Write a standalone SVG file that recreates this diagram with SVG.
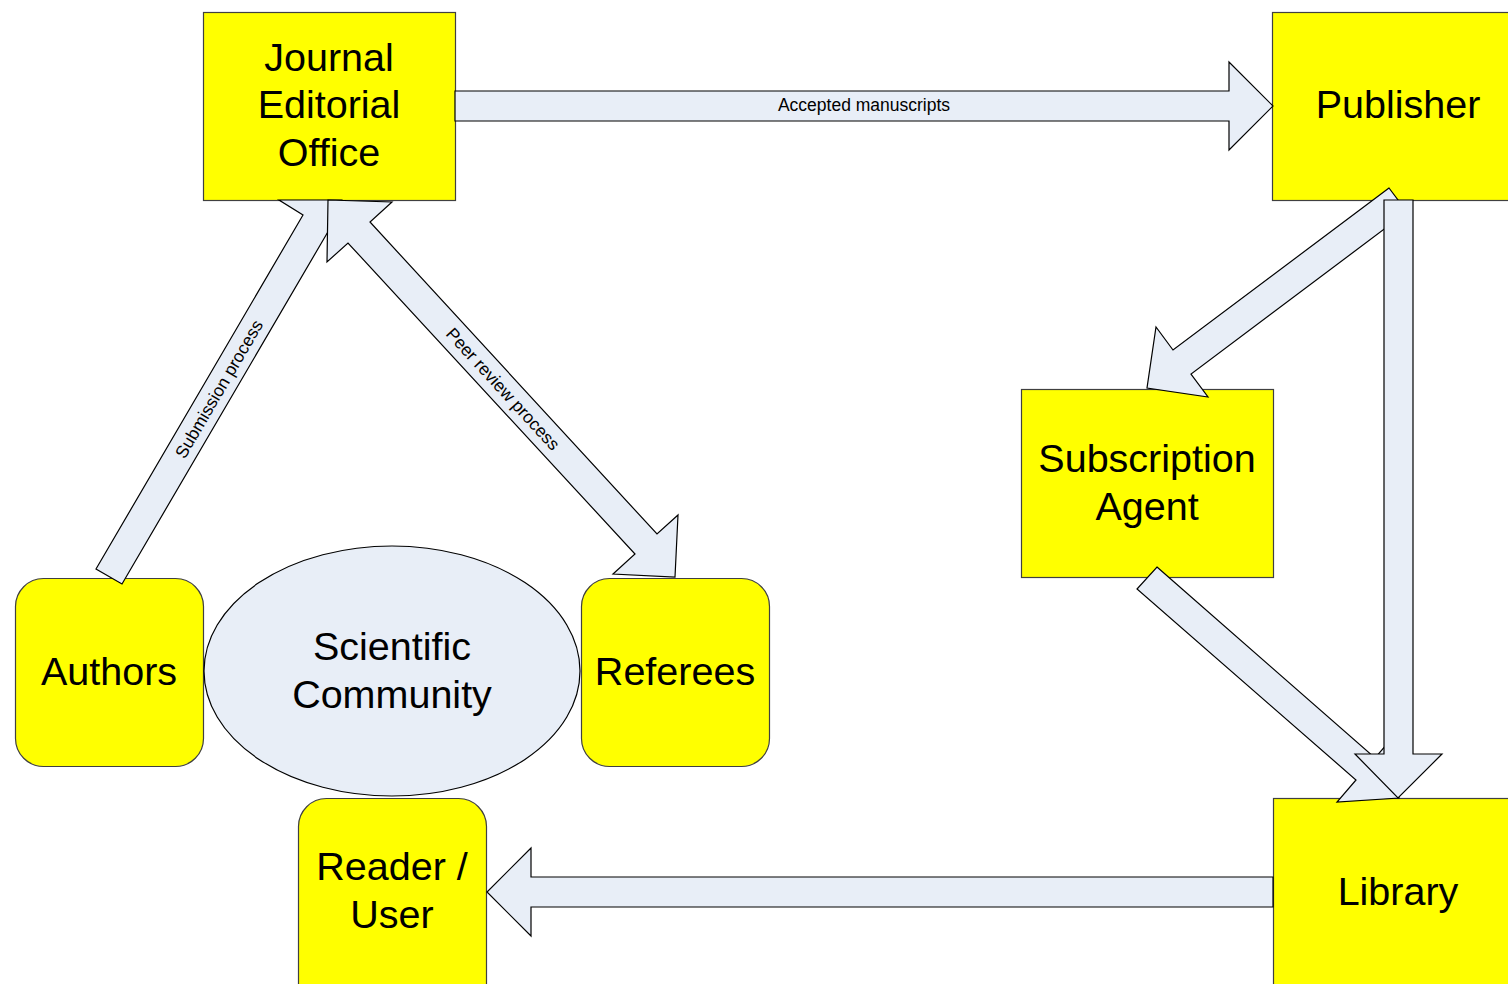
<svg xmlns="http://www.w3.org/2000/svg" width="1508" height="984" viewBox="0 0 1508 984">
<style>
.box{fill:#FFFF00;stroke:#404040;stroke-width:1.2}
.arr{fill:#E8EEF7;stroke:#000;stroke-width:1.2;stroke-linejoin:miter}
.ell{fill:#E8EEF7;stroke:#000;stroke-width:1.2}
.t{font-family:"Liberation Sans",Arial,sans-serif;font-size:39.5px;fill:#000;text-anchor:middle}
.l{font-family:"Liberation Sans",Arial,sans-serif;font-size:17.5px;fill:#000;text-anchor:middle}
</style>
<rect width="1508" height="984" fill="#fff"/>
<g id="journal">
<rect class="box" x="203.5" y="12.5" width="252" height="188"/>
<text class="t" x="329" y="71">Journal</text>
<text class="t" x="329" y="118">Editorial</text>
<text class="t" x="329" y="166">Office</text>
</g>
<g id="publisher">
<rect class="box" x="1272.5" y="12.5" width="240" height="188"/>
<text class="t" x="1398" y="118">Publisher</text>
</g>
<g id="agent">
<rect class="box" x="1021.5" y="389.5" width="252" height="188"/>
<text class="t" x="1147" y="472">Subscription</text>
<text class="t" x="1147" y="520">Agent</text>
</g>
<g id="library">
<rect class="box" x="1273.5" y="798.5" width="240" height="200"/>
<text class="t" x="1398" y="905">Library</text>
</g>
<g id="authors">
<rect class="box" x="15.5" y="578.5" width="188" height="188" rx="28" ry="28"/>
<text class="t" x="109" y="685">Authors</text>
</g>
<g id="referees">
<rect class="box" x="581.5" y="578.5" width="188" height="188" rx="28" ry="28"/>
<text class="t" x="675" y="685">Referees</text>
</g>
<g id="reader">
<rect class="box" x="298.5" y="798.5" width="188" height="220" rx="28" ry="28"/>
<text class="t" x="392" y="880">Reader /</text>
<text class="t" x="392" y="928">User</text>
</g>
<g id="community">
<ellipse class="ell" cx="392" cy="671" rx="188" ry="125"/>
<text class="t" x="392" y="660">Scientific</text>
<text class="t" x="392" y="708">Community</text>
</g>
<g id="connectors">
<polygon class="arr" points="96,569 303,215 279,200 342,200 353.5,244.5 329,230 122,584"/>
<polygon class="arr" points="328,200 392,202 370,222 657,534 678,515 675,577 613,574 635,554 348,243 327,262"/>
<polygon class="arr" points="455,91 1229,91 1229,62 1273,106 1229,150 1229,121 455,121"/>
<polygon class="arr" points="1273,877 531,877 531,848 487,892 531,936 531,907 1273,907"/>
<polygon class="arr" points="1389,188 1173,350 1156,327 1147,388 1208,397 1191,374 1407,212"/>
<polygon class="arr" points="1157,567 1375,758 1394,736 1399,798 1337,802 1356,780 1137,589"/>
<polygon class="arr" points="1384,200 1413,200 1413,754 1442,754 1398,798 1355,754 1384,754"/>
<text class="l" x="864" y="111">Accepted manuscripts</text>
<text class="l" transform="translate(219,389) rotate(-59.7)" x="0" y="6">Submission process</text>
<text class="l" transform="translate(503,389) rotate(47.5)" x="0" y="6">Peer review process</text>
</g>
</svg>
